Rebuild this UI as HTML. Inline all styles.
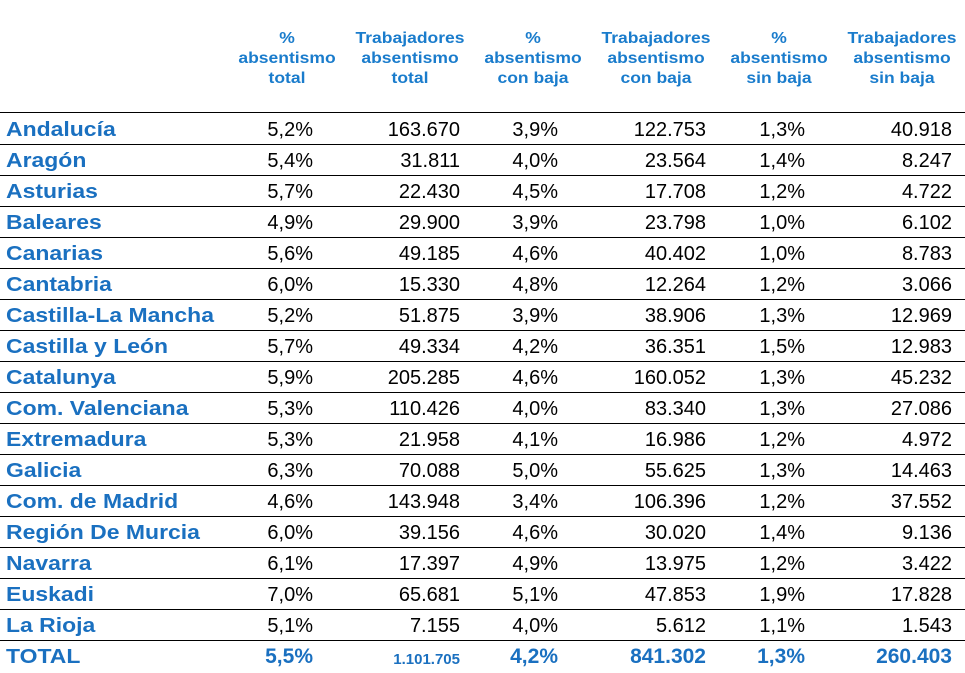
<!DOCTYPE html>
<html><head><meta charset="utf-8">
<style>
body{margin:0;width:965px;height:673px;background:#fff;font-family:"Liberation Sans",Arial,sans-serif;position:relative;overflow:hidden}
.h{position:absolute;top:29px;width:130px;text-align:center;color:#1a7ccc;font-weight:bold;font-size:15.5px;line-height:20px;transform:scaleX(1.13)}
.row{position:absolute;left:0;width:965px;height:31px;border-bottom:1px solid #000}
.row span{position:absolute;top:5px;font-size:20px;line-height:24px;color:#000;text-align:right}
.row span.n{left:6px;text-align:left;color:#1a70c0;font-weight:bold;font-size:20.5px;transform:scaleX(1.12);transform-origin:left center}
.tot span{color:#1a70c0;font-weight:bold;font-size:21px}
.tot span.s{font-size:15px;top:8px}
</style></head><body>
<div class="h" style="left:222px">%<br>absentismo<br>total</div>
<div class="h" style="left:345px">Trabajadores<br>absentismo<br>total</div>
<div class="h" style="left:468px">%<br>absentismo<br>con baja</div>
<div class="h" style="left:591px">Trabajadores<br>absentismo<br>con baja</div>
<div class="h" style="left:714px">%<br>absentismo<br>sin baja</div>
<div class="h" style="left:837px">Trabajadores<br>absentismo<br>sin baja</div>
<div style="position:absolute;left:0;top:112px;width:965px;border-top:1px solid #000"></div>
<div id="t"></div>
<script>
const regions=["Andalucía","Aragón","Asturias","Baleares","Canarias","Cantabria","Castilla-La Mancha","Castilla y León","Catalunya","Com. Valenciana","Extremadura","Galicia","Com. de Madrid","Región De Murcia","Navarra","Euskadi","La Rioja","TOTAL"];
const pctTotal=["5,2%","5,4%","5,7%","4,9%","5,6%","6,0%","5,2%","5,7%","5,9%","5,3%","5,3%","6,3%","4,6%","6,0%","6,1%","7,0%","5,1%","5,5%"];
const workersTotal=["163.670","31.811","22.430","29.900","49.185","15.330","51.875","49.334","205.285","110.426","21.958","70.088","143.948","39.156","17.397","65.681","7.155","1.101.705"];
const pctLeave=["3,9%","4,0%","4,5%","3,9%","4,6%","4,8%","3,9%","4,2%","4,6%","4,0%","4,1%","5,0%","3,4%","4,6%","4,9%","5,1%","4,0%","4,2%"];
const workersLeave=["122.753","23.564","17.708","23.798","40.402","12.264","38.906","36.351","160.052","83.340","16.986","55.625","106.396","30.020","13.975","47.853","5.612","841.302"];
const pctNoLeave=["1,3%","1,4%","1,2%","1,0%","1,0%","1,2%","1,3%","1,5%","1,3%","1,3%","1,2%","1,3%","1,2%","1,4%","1,2%","1,9%","1,1%","1,3%"];
const workersNoLeave=["40.918","8.247","4.722","6.102","8.783","3.066","12.969","12.983","45.232","27.086","4.972","14.463","37.552","9.136","3.422","17.828","1.543","260.403"];
const cols=[pctTotal,workersTotal,pctLeave,workersLeave,pctNoLeave,workersNoLeave];
const names=["pct-total","workers-total","pct-leave","workers-leave","pct-noleave","workers-noleave"];
const rights=[313,460,558,706,805,952];
const t=document.getElementById('t');
regions.forEach((r,i)=>{
  const d=document.createElement('div');
  d.className='row'+(i===regions.length-1?' tot':'');
  d.style.top=(113+i*31)+'px';
  if(i===regions.length-1)d.style.borderBottom='none';
  
  
  const n=document.createElement('span');n.className='n';n.textContent=r;
  
  
  d.appendChild(n);
  cols.forEach((c,j)=>{
    const s=document.createElement('span');
    s.textContent=c[i];
    s.style.right=(965-rights[j])+'px';
    if(i===regions.length-1&&j===1)s.className='s';
    
    
    d.appendChild(s);
  });
  t.appendChild(d);
});
</script>
</body></html>
